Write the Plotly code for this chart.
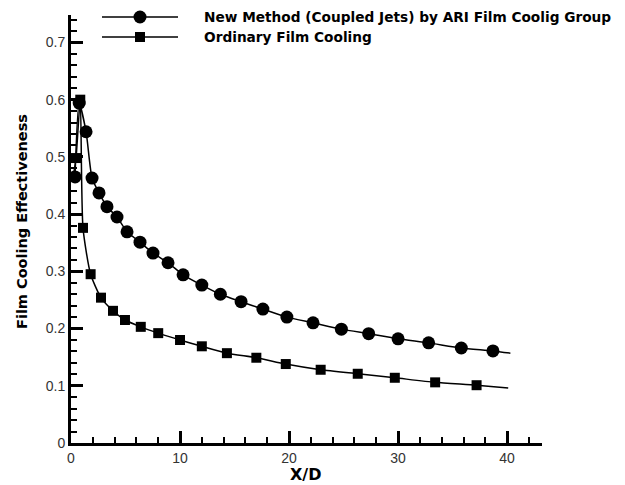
import plotly.graph_objects as go

# New Method (Coupled Jets) series
new_x = [0.37, 0.75, 1.38, 1.93, 2.57, 3.30, 4.22, 5.14, 6.33, 7.52, 8.90, 10.28, 12.0, 13.7,
         15.6, 17.6, 19.8, 22.2, 24.8, 27.3, 30.0, 32.8, 35.8, 38.7, 40.3]
new_y = [0.465, 0.594, 0.544, 0.463, 0.437, 0.413, 0.395, 0.369, 0.351, 0.332, 0.315, 0.294, 0.276, 0.260,
         0.247, 0.234, 0.220, 0.210, 0.199, 0.191, 0.182, 0.175, 0.166, 0.161, 0.157]
new_marked = [1] * 24 + [0]

# Ordinary Film Cooling series
ord_x = [0.2, 0.46, 0.85, 1.1, 1.8, 2.75, 3.85, 4.95, 6.4, 8.0, 10.0, 12.0, 14.3, 17.0, 19.7,
         22.9, 26.3, 29.7, 33.4, 37.2, 40.1]
ord_y = [0.465, 0.498, 0.600, 0.376, 0.295, 0.254, 0.231, 0.215, 0.203, 0.192, 0.180, 0.169, 0.157, 0.149, 0.138,
         0.128, 0.121, 0.114, 0.106, 0.101, 0.096]
ord_marked = [1] * 20 + [0]

legend_labels = ["New Method (Coupled Jets) by ARI Film Coolig Group", "Ordinary Film Cooling"]
x_title = "X/D"
y_title = "Film Cooling Effectiveness"

BOLD_FONT = "DejaVu Sans, Liberation Sans, Arial"

fig = go.Figure()
fig.add_trace(go.Scatter(
    x=new_x, y=new_y, mode="lines+markers", name=legend_labels[0],
    line=dict(color="black", width=1.5, shape="spline", smoothing=0.6),
    marker=dict(symbol="circle", color="black", opacity=1, line=dict(width=0, color="black"),
                size=[13 if m else 0 for m in new_marked]),
    showlegend=False))
fig.add_trace(go.Scatter(
    x=ord_x, y=ord_y, mode="lines+markers", name=legend_labels[1],
    line=dict(color="black", width=1.5, shape="spline", smoothing=0.6),
    marker=dict(symbol="square", color="black", opacity=1, line=dict(width=0, color="black"),
                size=[10 if m else 0 for m in ord_marked]),
    showlegend=False))

W, H = 625, 485
ml, mr, mt, mb = 71, 83, 15, 42
pw, ph = W - ml - mr, H - mt - mb

def px(xp):
    return (xp - ml) / pw

def py(yp):
    return (H - mb - yp) / ph

shapes = []
annotations = []
for i, (yy, sym) in enumerate([(17, "circle"), (37, "square")]):
    shapes.append(dict(type="line", xref="paper", yref="paper", x0=px(102), x1=px(178),
                       y0=py(yy), y1=py(yy), line=dict(color="black", width=1.5)))
    r = 6.5 if sym == "circle" else 5
    shapes.append(dict(type="circle" if sym == "circle" else "rect", xref="paper", yref="paper",
                       x0=px(140 - r), x1=px(140 + r), y0=py(yy + r), y1=py(yy - r),
                       fillcolor="black", line=dict(color="black", width=0)))
    annotations.append(dict(text="<b>%s</b>" % legend_labels[i], xref="paper", yref="paper",
                            x=px(202), y=py(yy), xanchor="left", yanchor="middle", showarrow=False,
                            font=dict(family=BOLD_FONT, size=13.7, color="black")))

# axis titles as annotations for exact placement
annotations.append(dict(text="<b>%s</b>" % x_title, xref="paper", yref="paper",
                        x=px(305), y=py(474), xanchor="center", yanchor="middle", showarrow=False,
                        font=dict(family=BOLD_FONT, size=16, color="black")))
annotations.append(dict(text="<b>%s</b>" % y_title, xref="paper", yref="paper",
                        x=px(22), y=py(222), xanchor="center", yanchor="middle", showarrow=False,
                        textangle=-90, font=dict(family=BOLD_FONT, size=14.5, color="black")))

axis_common = dict(showgrid=False, zeroline=False, showline=True, linecolor="black", linewidth=3,
                   ticks="inside", tickcolor="black", ticklen=12, tickwidth=2.5,
                   tickfont=dict(family="Liberation Sans, Arial", size=14, color="#333"),
                   mirror=False, automargin=False)

fig.update_layout(
    width=W, height=H, margin=dict(l=ml, r=mr, t=mt, b=mb),
    paper_bgcolor="white", plot_bgcolor="white",
    xaxis=dict(range=[0, 43.2], dtick=10, tick0=0,
               minor=dict(ticks="inside", dtick=2, ticklen=6, tickwidth=2, tickcolor="black"),
               **axis_common),
    yaxis=dict(range=[0, 0.748], dtick=0.1, tick0=0,
               minor=dict(ticks="inside", dtick=0.02, ticklen=6, tickwidth=2, tickcolor="black"),
               **axis_common),
    shapes=shapes, annotations=annotations,
)

fig.write_html("out.html")
